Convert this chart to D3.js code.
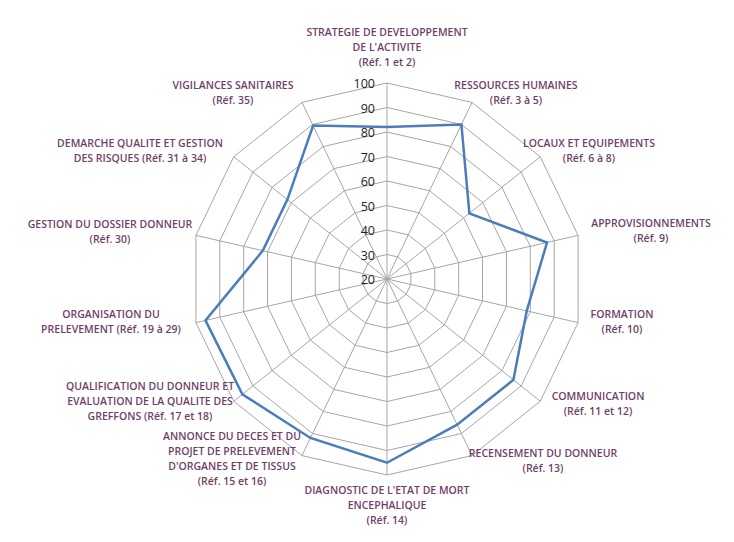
<!DOCTYPE html>
<html><head><meta charset="utf-8">
<script src="https://cdn.jsdelivr.net/npm/d3@7"></script>
<style>body{margin:0;background:#fff}text{font-family:"Open Sans","Liberation Sans",sans-serif}</style>
</head><body><svg id="c" width="734" height="542"></svg>
<script>
var categories = [
  ["STRATEGIE DE DEVELOPPEMENT", "DE L'ACTIVITE", "(Réf. 1 et 2)"],
  ["RESSOURCES HUMAINES", "(Réf. 3 à 5)"],
  ["LOCAUX ET EQUIPEMENTS", "(Réf. 6 à 8)"],
  ["APPROVISIONNEMENTS", "(Réf. 9)"],
  ["FORMATION", "(Réf. 10)"],
  ["COMMUNICATION", "(Réf. 11 et 12)"],
  ["RECENSEMENT DU DONNEUR", "(Réf. 13)"],
  ["DIAGNOSTIC DE L'ETAT DE MORT", "ENCEPHALIQUE", "(Réf. 14)"],
  ["ANNONCE DU DECES ET DU", "PROJET DE PRELEVEMENT", "D'ORGANES ET DE TISSUS", "(Réf. 15 et 16)"],
  ["QUALIFICATION DU DONNEUR ET", "EVALUATION DE LA QUALITE DES", "GREFFONS (Réf. 17 et 18)"],
  ["ORGANISATION DU", "PRELEVEMENT (Réf. 19 à 29)"],
  ["GESTION DU DOSSIER DONNEUR", "(Réf. 30)"],
  ["DEMARCHE QUALITE ET GESTION", "DES RISQUES (Réf. 31 à 34)"],
  ["VIGILANCES SANITAIRES", "(Réf. 35)"]
];
var values = [82, 90, 63, 87, 78.5, 86, 86, 95, 92, 95.5, 96, 72, 72, 89.5];
var ticks = [20, 30, 40, 50, 60, 70, 80, 90, 100];

// label anchor points [x, y of first line, text-anchor]
var labelPos = [
  [387, 36, "middle"], [516, 89, "middle"], [589, 147, "middle"], [651, 227, "middle"],
  [622, 318, "middle"], [598, 400, "middle"], [543, 457, "middle"], [387, 494, "middle"],
  [232, 440, "middle"], [150, 390, "middle"], [111, 318, "middle"], [110, 228, "middle"],
  [140, 147, "middle"], [233, 89, "middle"]
];

var svg = d3.select("#c");
var cx = 387, cy = 279, R = 196;
var n = categories.length;
var r = d3.scaleLinear().domain([20, 100]).range([0, R]);
var ang = function(i) { return i * 2 * Math.PI / n; };
var pt = function(i, v) { return [cx + r(v) * Math.sin(ang(i)), cy - r(v) * Math.cos(ang(i))]; };

// grid rings
ticks.slice(1).forEach(function(t) {
  svg.append("polygon")
    .attr("points", d3.range(n).map(function(i) { return pt(i, t).join(","); }).join(" "))
    .attr("fill", "none").attr("stroke", "#a6a6a6").attr("stroke-width", 1);
});
// spokes
d3.range(n).forEach(function(i) {
  var p = pt(i, 100);
  svg.append("line").attr("x1", cx).attr("y1", cy).attr("x2", p[0]).attr("y2", p[1])
    .attr("stroke", "#a6a6a6").attr("stroke-width", 1);
});
// tick labels
ticks.forEach(function(t) {
  svg.append("text").attr("x", cx - 12).attr("y", cy - r(t) + 5)
    .attr("text-anchor", "end").attr("font-size", 12.5).attr("fill", "#222").text(t);
});
// series
var line = d3.line().curve(d3.curveLinearClosed);
svg.append("path")
  .attr("d", line(values.map(function(v, i) { return pt(i, v); })))
  .attr("fill", "none").attr("stroke", "#4a7ebb").attr("stroke-width", 2.5);

// category labels
categories.forEach(function(lines, i) {
  var p = labelPos[i];
  var t = svg.append("text").attr("text-anchor", p[2]).attr("font-size", 10.5)
    .attr("font-weight", 600).attr("fill", "#6f3f6a");
  lines.forEach(function(s, k) {
    t.append("tspan").attr("x", p[0]).attr("y", p[1] + k * 15).text(s);
  });
});
</script></body></html>
